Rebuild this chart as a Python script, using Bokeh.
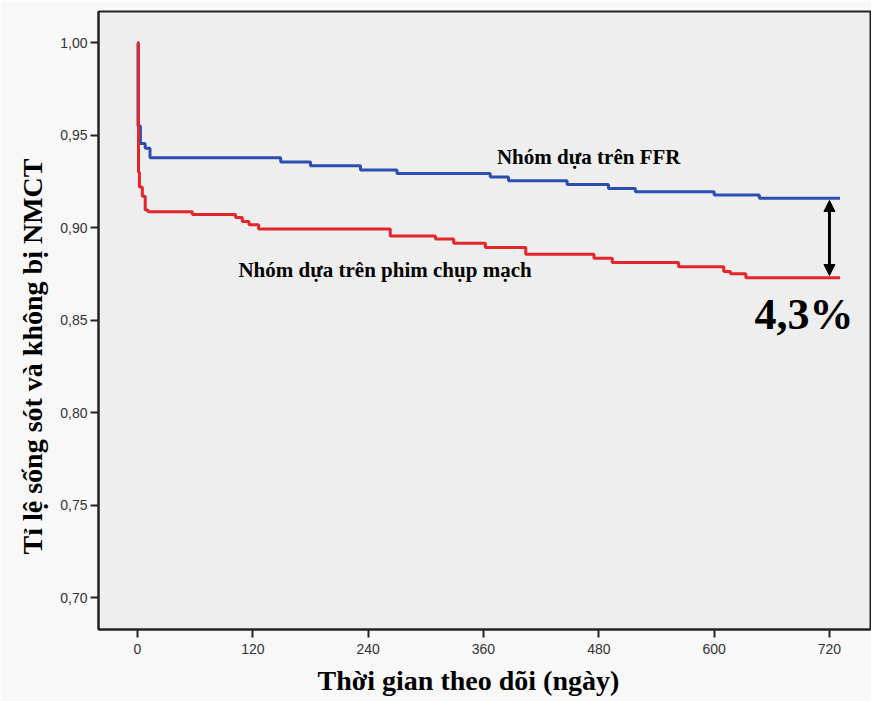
from bokeh.plotting import figure
from bokeh.models import Range1d, FixedTicker, CustomJSTickFormatter, Arrow, NormalHead, Label, Title
from bokeh.embed import file_html
from bokeh.resources import INLINE

# Kaplan-Meier style step data (days, survival free of MI)
ffr_days = [0, 0.5, 3, 8, 13, 149, 180, 232, 270, 367, 386, 447, 490, 518, 600, 647, 731]
ffr_surv = [1.0, 0.955, 0.9456, 0.943, 0.9378, 0.9356, 0.9335, 0.9312, 0.9294, 0.9275,
            0.9254, 0.9234, 0.9213, 0.9195, 0.9177, 0.916, 0.916]

angio_days = [0, 1, 2, 5, 8, 11, 57, 102, 109, 116, 126, 263, 310, 329, 362, 404, 475,
              494, 563, 610, 617, 633, 731]
angio_surv = [1.0, 0.930, 0.922, 0.917, 0.9096, 0.9087, 0.9072, 0.9056, 0.9034, 0.9016,
              0.8994, 0.8956, 0.894, 0.8917, 0.8893, 0.8857, 0.8836, 0.8812, 0.879,
              0.8764, 0.8751, 0.873, 0.873]

x_ticks = [0, 120, 240, 360, 480, 600, 720]
y_ticks = [0.70, 0.75, 0.80, 0.85, 0.90, 0.95, 1.00]

label_ffr = "Nhóm dựa trên FFR"
label_angio = "Nhóm dựa trên phim chụp mạch"
diff_label = "4,3%"
x_title = "Thời gian theo dõi (ngày)"
y_title = "Tỉ lệ sống sót và không bị NMCT"

BLUE = "#2b4eb3"
RED = "#e4262b"

p = figure(width=871, height=701, output_backend="svg", toolbar_location=None,
           x_range=Range1d(-40.6, 762.7), y_range=Range1d(0.6829, 1.0169),
           min_border_left=98, min_border_top=11, min_border_right=1, min_border_bottom=71)

p.background_fill_color = "#eeeeee"
p.border_fill_color = "#f8f8f8"
p.outline_line_color = "#222222"
p.outline_line_width = 2
p.grid.visible = False

for ax in (p.xaxis[0], p.yaxis[0]):
    ax.axis_line_color = "#222222"
    ax.axis_line_width = 2
    ax.major_tick_line_color = "#222222"
    ax.major_tick_line_width = 2
    ax.major_tick_out = 8
    ax.major_tick_in = 0
    ax.minor_tick_line_color = None
    ax.major_label_text_font = "Liberation Sans"
    ax.major_label_text_font_size = "14px"
    ax.major_label_text_color = "#333333"

p.xaxis.ticker = FixedTicker(ticks=x_ticks)
p.yaxis.ticker = FixedTicker(ticks=y_ticks)
p.yaxis.formatter = CustomJSTickFormatter(code="return tick.toFixed(2).replace('.', ',');")
p.xaxis.major_label_standoff = 6
p.yaxis.major_label_standoff = 3

# axis titles as side titles, so they can be offset like in the reference
p.add_layout(Title(text=x_title, align="left", offset=219, standoff=12,
                   text_font="Liberation Serif", text_font_style="bold",
                   text_font_size="28px", text_color="black"), "below")
p.add_layout(Title(text=y_title, align="left", offset=75, standoff=20,
                   text_font="Liberation Serif", text_font_style="bold",
                   text_font_size="28px", text_color="black"), "left")

p.step(ffr_days, ffr_surv, mode="after", line_color=BLUE, line_width=3)
p.step(angio_days, angio_surv, mode="after", line_color=RED, line_width=3)

arrow_x = 720
gap = 0.0012
p.add_layout(Arrow(x_start=arrow_x, y_start=angio_surv[-1] + gap, x_end=arrow_x, y_end=ffr_surv[-1] - gap,
                   line_color="black", line_width=3,
                   start=NormalHead(size=11, fill_color="black", line_color="black"),
                   end=NormalHead(size=11, fill_color="black", line_color="black")))

p.add_layout(Label(x=374, y=0.938, text=label_ffr, text_font="Liberation Serif",
                   text_font_style="bold", text_font_size="21px", text_baseline="middle",
                   text_color="black"))
p.add_layout(Label(x=105, y=0.8772, text=label_angio, text_font="Liberation Serif",
                   text_font_style="bold", text_font_size="21px", text_baseline="middle",
                   text_color="black"))
p.add_layout(Label(x=642, y=0.853, text=diff_label, text_font="Liberation Serif",
                   text_font_style="bold", text_font_size="44px", text_baseline="middle",
                   text_color="black"))

open("out.html", "w").write(file_html(p, INLINE))
